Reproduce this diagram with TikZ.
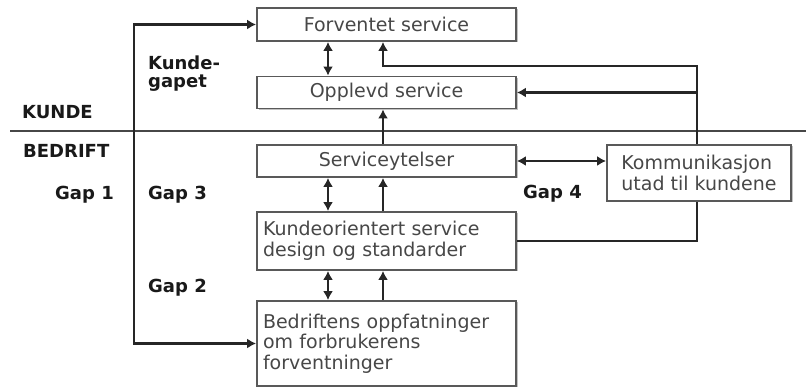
\documentclass[tikz,border=0pt]{standalone}
\usepackage{fontspec}
\setmainfont{DejaVu Sans}
\usetikzlibrary{arrows.meta,shadows}
\begin{document}
\begin{tikzpicture}[x=1pt,y=-1pt,
  box/.style={draw=black!65, line width=1.8pt, fill=white, rectangle, inner sep=0pt,
    font=\fontsize{19}{20.5}\selectfont, text=black!72,
    drop shadow={shadow xshift=1.5pt, shadow yshift=-1.5pt, fill=black!40, opacity=0.6}},
  lbl/.style={font=\fontsize{18}{20}\selectfont\bfseries, text=black!90, inner sep=0pt, anchor=base west},
  conn/.style={line width=2.4pt, draw=black!85},
  tip/.style={-{Latex[length=9pt,width=10pt]}},
  tipboth/.style={{Latex[length=9pt,width=10pt]}-{Latex[length=9pt,width=10pt]}},
  divider/.style={line width=2.8pt, draw=black!72}
]
\useasboundingbox (0,0) rectangle (806,387);

% divider line
\coordinate (hl) at (10,131);
\coordinate (hr) at (806,131);
\draw[divider] (hl) -- (hr);

% boxes
\node[box, minimum width=259pt, minimum height=33pt] (fs) at (386.5,24.5) {Forventet service};
\node[box, minimum width=259pt, minimum height=32pt] (os) at (386.5,92.5) {Opplevd service};
\node[box, minimum width=259pt, minimum height=32pt] (sy) at (386.5,161) {Serviceytelser};
\node[box, text width=247pt, inner xsep=6pt, align=left, minimum height=58pt] (kd) at (386.5,241)
  {Kundeorientert service\\design og standarder};
\node[box, text width=247pt, inner xsep=6pt, align=left, minimum height=85pt] (bo) at (386.5,343.5)
  {Bedriftens oppfatninger\\om forbrukerens\\forventninger};
\node[box, minimum width=184pt, minimum height=56pt, align=left] (ku) at (699,173)
  {Kommunikasjon\\utad til kundene};

% labels
\node[lbl] (kunde) at (22,119) {KUNDE};
\node[lbl] (bedrift) at (23,158) {BEDRIFT};
\node[lbl] (kg1) at (148,70) {Kunde-};
\node[lbl] (kg2) at (148,88) {gapet};
\node[lbl] (gap1) at (55,200) {Gap 1};
\node[lbl] (gap3) at (148,200) {Gap 3};
\node[lbl] (gap4) at (523,199) {Gap 4};
\node[lbl] (gap2) at (148,293) {Gap 2};

% helper coordinates
\coordinate (xa) at (328,0);
\coordinate (xb) at (383,0);
\coordinate (lt) at (134,24.5);
\coordinate (lb) at (134,343.5);
\coordinate (c1) at (697,66);
\coordinate (c2) at (697,92.5);

% gap 1 line
\draw[conn, tipboth] (fs.west) -- (lt) -- (lb) -- (bo.west);

% double arrows
\draw[conn, tipboth] (fs.south -| xa) -- (os.north -| xa);
\draw[conn, tipboth] (sy.south -| xa) -- (kd.north -| xa);
\draw[conn, tipboth] (kd.south -| xa) -- (bo.north -| xa);

% up arrows
\draw[conn, tip] (sy.north -| xb) -- (os.south -| xb);
\draw[conn, tip] (kd.north -| xb) -- (sy.south -| xb);
\draw[conn, tip] (bo.north -| xb) -- (kd.south -| xb);

% communication
\draw[conn, tip] (ku.north -| c1) -- (c1) -| (fs.south -| xb);
\draw[conn, tip] (c2) -- (os.east);
\draw[conn] (kd.east) -| (ku.south -| c1);
\draw[conn, tipboth] (sy.east) -- (ku.west |- sy.east);
\end{tikzpicture}
\end{document}
